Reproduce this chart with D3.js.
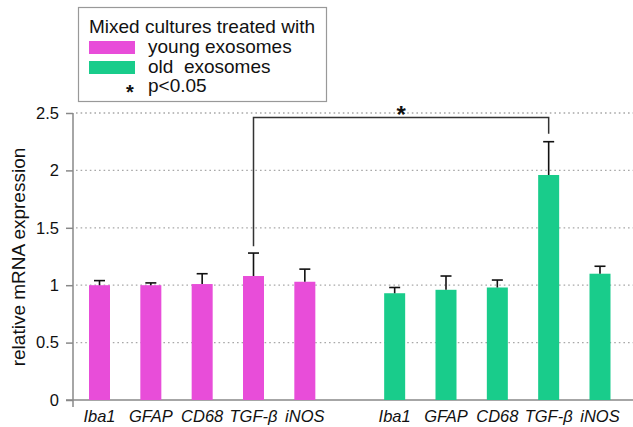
<!DOCTYPE html>
<html>
<head>
<meta charset="utf-8">
<script src="https://cdn.jsdelivr.net/npm/d3@7"></script>
<style>
  body { margin: 0; background: #fff; }
  svg { font-family: "Liberation Sans", Arial, Helvetica, sans-serif; }
</style>
</head>
<body>
<svg id="chart" width="633" height="427"></svg>
<script>
// data
const genes = ["Iba1", "GFAP", "CD68", "TGF-\u03b2", "iNOS"];
const groups = ["young exosomes", "old  exosomes"];
const youngMean = [1.00, 1.00, 1.01, 1.08, 1.03];
const youngErr  = [0.04, 0.02, 0.09, 0.20, 0.11];
const oldMean   = [0.93, 0.96, 0.98, 1.96, 1.10];
const oldErr    = [0.05, 0.12, 0.065, 0.29, 0.065];
const yTicks = [0, 0.5, 1, 1.5, 2, 2.5];
const colors = ["#e84dd9", "#19cc8b"];
const legendTitle = "Mixed cultures treated with";
const sigLabel = "p<0.05";

const svg = d3.select("#chart");

// slot positions: second group is shifted by a wider gap
const groupGap = 5.75;
const x = d3.scaleLinear().domain([0, 4 + groupGap]).range([99.5, 600]);
const y = d3.scaleLinear().domain([0, 2.5]).range([400, 113]);
const barW = 21;

// build bar rows
const bars = [];
[youngMean, oldMean].forEach(function(means, g) {
  const errs = g === 0 ? youngErr : oldErr;
  means.forEach(function(m, i) {
    bars.push({gene: genes[i], g: g, pos: i + g * groupGap, mean: m, err: errs[i]});
  });
});

// grid lines (dotted)
svg.append("g")
  .selectAll("line")
  .data(yTicks.filter(function(d) { return d > 0; }))
  .join("line")
    .attr("x1", 76).attr("x2", 633)
    .attr("y1", function(d) { return y(d); })
    .attr("y2", function(d) { return y(d); })
    .attr("stroke", "#a8a8a8")
    .attr("stroke-width", 1.3)
    .attr("stroke-dasharray", "1.6,3");

// y axis
const yAxis = svg.append("g")
  .attr("transform", "translate(73,0)")
  .call(d3.axisLeft(y).tickValues(yTicks).tickSize(7).tickSizeOuter(0).tickPadding(7)
    .tickFormat(d3.format("~g")));
yAxis.select(".domain").remove();
yAxis.selectAll(".tick line").attr("stroke", "#888").attr("stroke-width", 1.5);
yAxis.selectAll(".tick text")
  .attr("font-size", 16.5)
  .attr("font-family", "Liberation Sans, Arial, sans-serif")
  .attr("fill", "#111");

// axis lines
svg.append("line")
  .attr("x1", 73).attr("x2", 73)
  .attr("y1", y(2.5)).attr("y2", y(0) + 7)
  .attr("stroke", "#888").attr("stroke-width", 1.5);
svg.append("line")
  .attr("x1", 66).attr("x2", 633)
  .attr("y1", y(0)).attr("y2", y(0))
  .attr("stroke", "#888").attr("stroke-width", 1.5);

// y label
svg.append("text")
  .attr("transform", "translate(25," + 257 + ") rotate(-90)")
  .attr("text-anchor", "middle")
  .attr("font-size", 19)
  .attr("fill", "#111")
  .text("relative mRNA expression");

// bars
svg.append("g")
  .selectAll("rect")
  .data(bars)
  .join("rect")
    .attr("x", function(d) { return x(d.pos) - barW / 2; })
    .attr("y", function(d) { return y(d.mean); })
    .attr("width", barW)
    .attr("height", function(d) { return y(0) - y(d.mean); })
    .attr("fill", function(d) { return colors[d.g]; });

// error bars (upper only)
const eb = svg.append("g").attr("stroke", "#111").attr("stroke-width", 1.6);
eb.selectAll("line.whisk")
  .data(bars)
  .join("line")
    .attr("class", "whisk")
    .attr("x1", function(d) { return x(d.pos); })
    .attr("x2", function(d) { return x(d.pos); })
    .attr("y1", function(d) { return y(d.mean); })
    .attr("y2", function(d) { return y(d.mean + d.err); });
eb.selectAll("line.cap")
  .data(bars)
  .join("line")
    .attr("class", "cap")
    .attr("x1", function(d) { return x(d.pos) - 5.5; })
    .attr("x2", function(d) { return x(d.pos) + 5.5; })
    .attr("y1", function(d) { return y(d.mean + d.err); })
    .attr("y2", function(d) { return y(d.mean + d.err); });

// x labels
svg.append("g")
  .selectAll("text")
  .data(bars)
  .join("text")
    .attr("x", function(d) { return x(d.pos); })
    .attr("y", 422)
    .attr("text-anchor", "middle")
    .attr("font-size", 16.5)
    .attr("font-style", "italic")
    .attr("fill", "#111")
    .text(function(d) { return d.gene; });

// significance bracket between TGF-b bars
const sig = {i: 3, top: 2.46, leftEnd: 1.34, rightEnd: 2.32};
const xl = x(sig.i), xr = x(sig.i + groupGap);
svg.append("path")
  .attr("d", "M" + xl + "," + y(sig.leftEnd) + "V" + y(sig.top) + "H" + xr + "V" + y(sig.rightEnd))
  .attr("fill", "none")
  .attr("stroke", "#333")
  .attr("stroke-width", 1.5);
svg.append("text")
  .attr("x", (xl + xr) / 2)
  .attr("y", y(sig.top) + 5)
  .attr("text-anchor", "middle")
  .attr("font-size", 24)
  .attr("font-weight", "bold")
  .attr("fill", "#111")
  .text("*");

// legend
const lg = svg.append("g");
lg.append("rect")
  .attr("x", 78.5).attr("y", 7.5)
  .attr("width", 248).attr("height", 94)
  .attr("fill", "#fff")
  .attr("stroke", "#999")
  .attr("stroke-width", 1.2);
lg.append("text")
  .attr("x", 89).attr("y", 33)
  .attr("font-size", 19)
  .attr("fill", "#111")
  .text(legendTitle);
lg.selectAll("rect.sw")
  .data(groups)
  .join("rect")
    .attr("class", "sw")
    .attr("x", 89)
    .attr("y", function(d, i) { return 41 + i * 20; })
    .attr("width", 46).attr("height", 13)
    .attr("fill", function(d, i) { return colors[i]; });
lg.selectAll("text.lab")
  .data(groups.concat([sigLabel]))
  .join("text")
    .attr("class", "lab")
    .attr("x", 148)
    .attr("y", function(d, i) { return 53 + i * 19.5; })
    .attr("font-size", 19)
    .attr("fill", "#111")
    .style("white-space", "pre")
    .text(function(d) { return d; });
lg.append("text")
  .attr("x", 130).attr("y", 99)
  .attr("text-anchor", "middle")
  .attr("font-size", 20)
  .attr("font-weight", "bold")
  .attr("fill", "#111")
  .text("*");
</script>
</body>
</html>
